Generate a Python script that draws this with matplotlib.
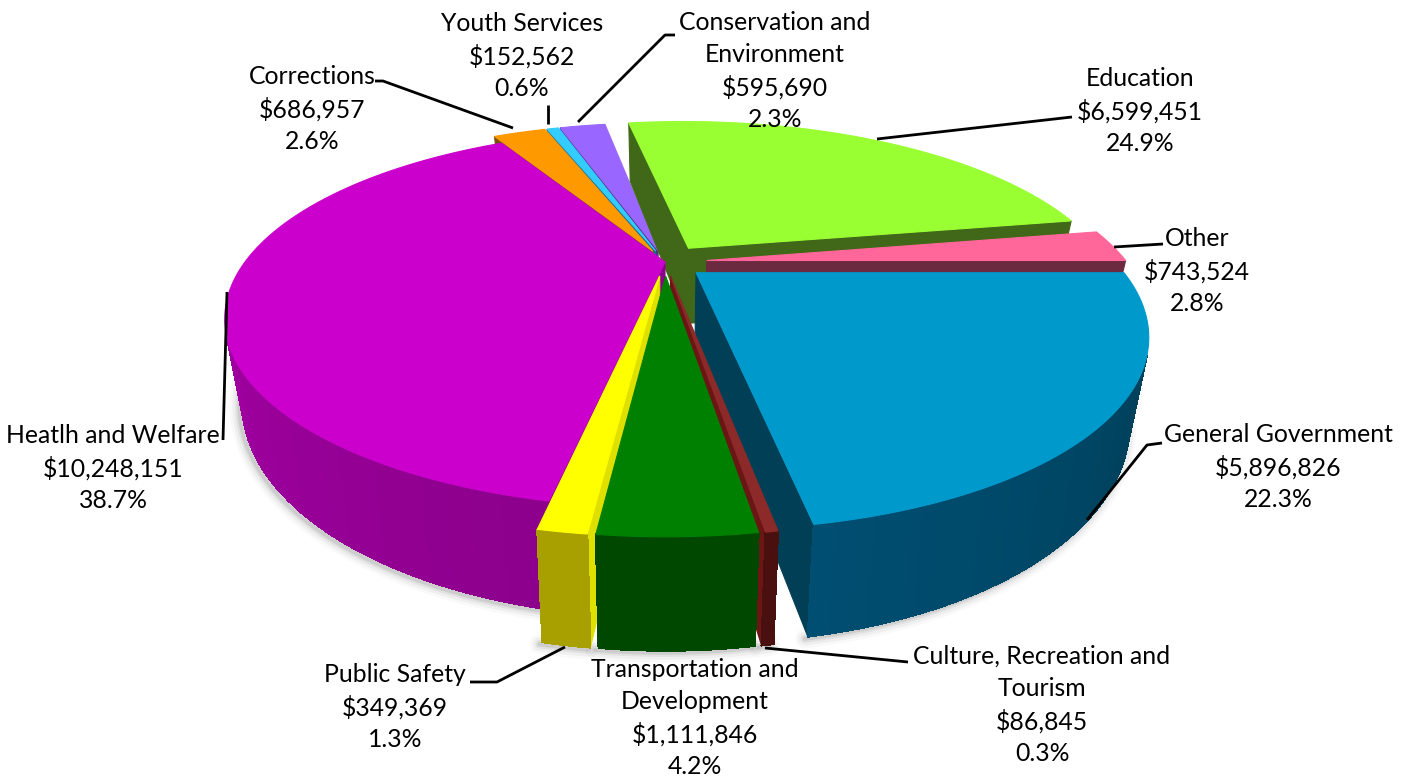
import numpy as np
import matplotlib
matplotlib.use("Agg")
import matplotlib.pyplot as plt
from matplotlib.colors import to_rgb

# Budget categories, clockwise from the three o'clock position
categories = ["General Government", "Culture, Recreation and\nTourism",
              "Transportation and\nDevelopment", "Public Safety",
              "Heatlh and Welfare", "Corrections", "Youth Services",
              "Conservation and\nEnvironment", "Education", "Other"]
amounts = [5896826, 86845, 1111846, 349369, 10248151,
           686957, 152562, 595690, 6599451, 743524]
explode = [0.095, 0.08, 0.08, 0.08, 0.0, 0.07, 0.07, 0.07, 0.10, 0.10]

top_colors = ["#0099CC", "#8C2A2A", "#008000", "#FFFF00", "#CC00CC",
              "#FF9900", "#33CCFF", "#9966FF", "#99FF33", "#FF6699"]
rim_start = ["#003A50", "#4A1010", "#004800", "#A8A000", "#8C008C",
             "#8B5A10", "#1F6F8F", "#503080", "#406818", "#6B2A40"]
rim_end = ["#004E72", "#4A1010", "#004800", "#A8A000", "#BB00BB",
           "#8B5A10", "#1F6F8F", "#503080", "#406818", "#6B2A40"]
wall_colors = ["#003F55", "#6B1515", "#004800", "#E0E000", "#8C008C",
               "#7A5010", "#1F6F8F", "#503080", "#406818", "#6B2A40"]

# Back-to-front painting order for the slices
paint_order = [7, 6, 5, 8, 9, 4, 3, 0, 1, 2]

label_centers = [(1278, 467), (1042, 705), (695, 718), (395, 707), (113, 468),
                 (312, 109), (522, 56), (775, 71), (1140, 111), (1197, 271)]
leaders = [[(1087, 520), (1147, 445), (1162, 443)],
           [(765, 648), (908, 662)],
           [(565, 647), (497, 682), (470, 682)],
           [(227, 292), (223, 440)],
           [(513, 128), (383, 81), (375, 81)],
           [(548, 124), (548, 105)],
           [(578, 122), (665, 35), (675, 35)],
           [(877, 139), (1072, 117)],
           [(1114, 247), (1163, 244)]]

# Projection of the disc onto the page
CX, CY = 665.0, 262.0
RX, RY = 420.0, 172.0
PERSP = 0.30
DEPTH = 77.0
TAPER = 0.04

plt.rcParams["font.family"] = ["Lato", "DejaVu Sans"]
fig = plt.figure(figsize=(14.11, 7.78), dpi=100)
ax = fig.add_axes([0, 0, 1, 1])
ax.set_xlim(0, 1411)
ax.set_ylim(778, 0)
ax.axis("off")


def project(x, y, z=0.0):
    w = 1.0 / (1.0 - PERSP * y)
    return CX + RX * x * w * (1.0 - TAPER * z), CY + (RY * y + DEPTH * z) * w


def ring(theta, offset, r=1.0, z=0.0):
    return project(offset[0] + r * np.cos(theta), offset[1] + r * np.sin(theta), z)


def signed_area(px, py):
    area = 0.0
    for i in range(len(px)):
        j = (i + 1) % len(px)
        area += px[i] * py[j] - px[j] * py[i]
    return area


def fill(px, py, color, z, smooth=True):
    ax.fill(px, py, facecolor=color, edgecolor=color, linewidth=0.8, zorder=z,
            antialiased=smooth)


total = sum(amounts)
fractions = np.array(amounts) / total
edges = np.concatenate([[0.0], np.cumsum(fractions)]) * 2 * np.pi

# Soft shadow along the lower rim of the near slices
for i, e in enumerate(explode):
    mid = 0.5 * (edges[i] + edges[i + 1])
    off = (e * np.cos(mid), e * np.sin(mid))
    lo, hi = edges[i], min(edges[i + 1], np.pi)
    if hi <= lo:
        continue
    t = np.linspace(lo, hi, 80)
    bx, by = ring(t, off, z=1.0)
    for lw, a in [(14, 0.03), (10, 0.05), (6, 0.08), (3, 0.12)]:
        ax.plot(bx - 3, by + 2, color="#404040", alpha=a, lw=lw,
                solid_capstyle="round", zorder=1)

for rank, i in enumerate(paint_order):
    base = 10 + rank * 10
    a0, a1 = edges[i], edges[i + 1]
    mid = 0.5 * (a0 + a1)
    off = (explode[i] * np.cos(mid), explode[i] * np.sin(mid))
    apex_top = project(off[0], off[1], 0.0)
    apex_bot = project(off[0], off[1], 1.0)

    # Radial walls on both cut edges, keeping only those turned to the viewer
    for ang, sign in ((a0, -1), (a1, 1)):
        rt = ring(ang, off, z=0.0)
        rb = ring(ang, off, z=1.0)
        px = [apex_top[0], rt[0], rb[0], apex_bot[0]]
        py = [apex_top[1], rt[1], rb[1], apex_bot[1]]
        if sign * signed_area(px, py) > 0:
            fill(px, py, wall_colors[i], base)

    # Outer rim, shaded segment by segment
    n = max(4, int((a1 - a0) / np.radians(1.0)))
    t = np.linspace(a0, a1, n + 1)
    c0, c1 = np.array(to_rgb(rim_start[i])), np.array(to_rgb(rim_end[i]))
    for s in range(n):
        p0, p1 = ring(t[s], off), ring(t[s + 1], off)
        q0, q1 = ring(t[s], off, z=1.0), ring(t[s + 1], off, z=1.0)
        px = [p0[0], p1[0], q1[0], q0[0]]
        py = [p0[1], p1[1], q1[1], q0[1]]
        if signed_area(px, py) < 0:
            fill(px, py, tuple(c0 + (c1 - c0) * s / max(n - 1, 1)), base + 1, smooth=False)

    # Top face
    t = np.linspace(a0, a1, max(8, n * 2))
    tx, ty = ring(t, off)
    fill(np.r_[apex_top[0], tx], np.r_[apex_top[1], ty], top_colors[i], base + 2)

for pts in leaders:
    xs, ys = zip(*pts)
    ax.plot(xs, ys, color="black", lw=2.0, zorder=200, solid_capstyle="butt")

for name, amount, frac, (lx, ly) in zip(categories, amounts, fractions, label_centers):
    ax.text(lx, ly, f"{name}\n${amount:,}\n{frac * 100:.1f}%", ha="center", va="center",
            fontsize=17.8, linespacing=1.46, color="black", zorder=210)

fig.savefig("out.png", dpi=100, facecolor="white")
